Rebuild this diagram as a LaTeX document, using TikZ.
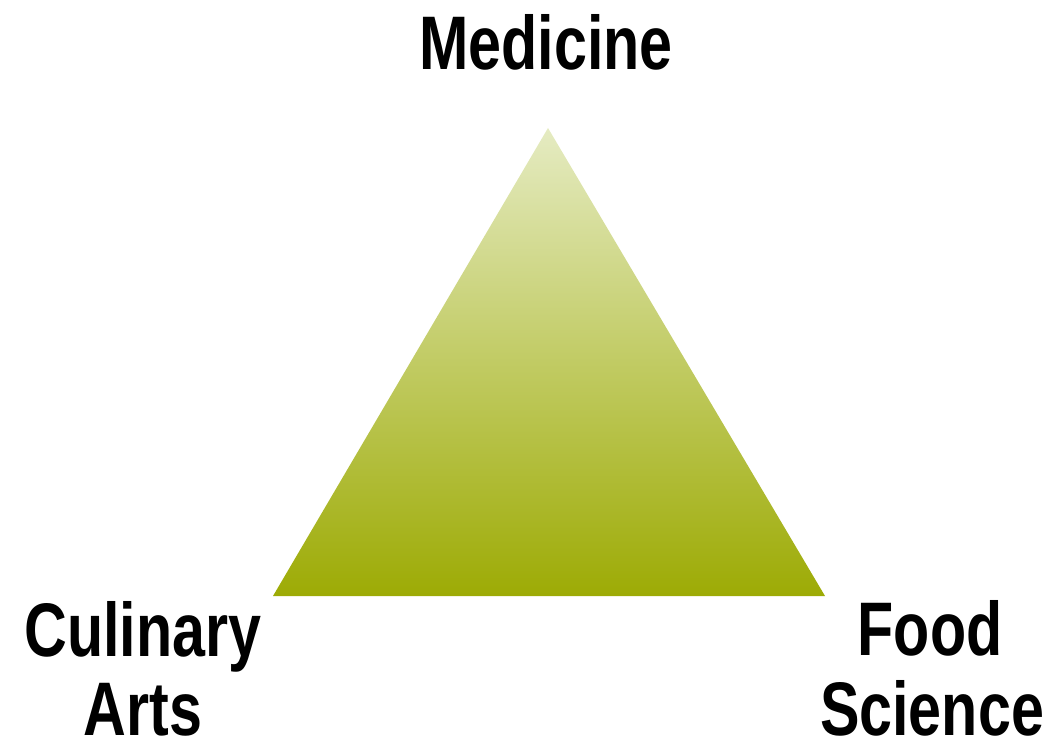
\documentclass[tikz,border=0pt]{standalone}
\usepackage{fontspec}
\setsansfont[FakeStretch=0.78]{Liberation Sans}
\usepackage{tikz}
\usetikzlibrary{positioning}
\definecolor{leaf}{RGB}{157,171,5}
\definecolor{sprout}{RGB}{229,235,194}
\tikzset{
  corner/.style={font=\sffamily\bfseries\fontsize{54}{61}\selectfont, align=center,
    inner sep=0pt, text depth=0pt},
  pyramid/.style={top color=sprout, bottom color=leaf, draw=none}
}

\begin{document}
\begin{tikzpicture}[x=0.025cm, y=-0.025cm]
  \useasboundingbox (0,0) rectangle (1052,753);
  % triangle corners
  \coordinate (apex) at (548,128);
  \coordinate (left) at (273,596);
  \coordinate (right) at (825,596);
  \shade[pyramid] (apex) -- (left) -- (right) -- cycle;
  % labels
  \node[corner, anchor=base] (medicine) at (546,70) {Medicine};
  \node[corner, anchor=base] (culinary) at (143,656) {Culinary};
  \node[corner, anchor=base] (arts) at (143,735) {Arts};
  \node[corner, anchor=base] (food) at (930,655) {Food};
  \node[corner, anchor=base] (science) at (932,735) {Science};
\end{tikzpicture}
\end{document}
